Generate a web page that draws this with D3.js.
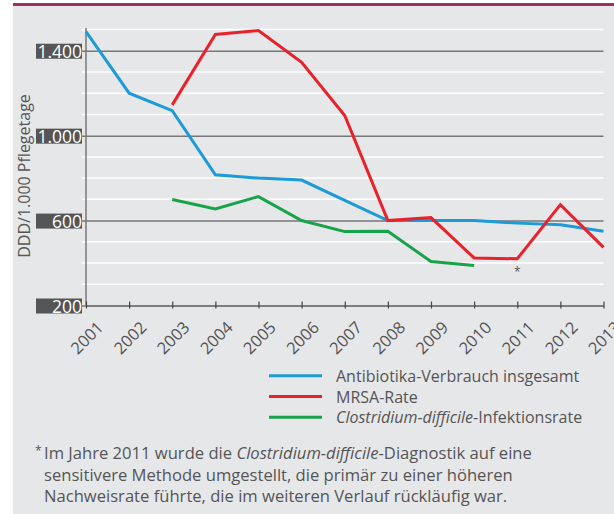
<!DOCTYPE html>
<html>
<head>
<meta charset="utf-8">
<script src="https://cdn.jsdelivr.net/npm/d3@7/dist/d3.min.js"></script>
<style>
  body { margin: 0; background: #fff; }
  text { font-family: "Open Sans", "DejaVu Sans", sans-serif; }
</style>
</head>
<body>
<div id="chart"></div>
<script>
// data
const years = [2001, 2002, 2003, 2004, 2005, 2006, 2007, 2008, 2009, 2010, 2011, 2012, 2013];
const antibiotika = [1490, 1200, 1118, 816, 800, 791, 695, 600, 600, 600, 588, 580, 550];
const mrsa = [null, null, 1145, 1477, 1495, 1345, 1095, 600, 614, 424, 420, 675, 474];
const clostridium = [null, null, 699, 655, 713, 600, 548, 550, 407, 388, null, null, null];
const yTicks = [200, 600, 1000, 1400];
const yMinor = [300, 400, 500, 700, 800, 900, 1100, 1200, 1300, 1500];

const series = [
    { name: 'Antibiotika-Verbrauch insgesamt', values: antibiotika, color: '#1b9bd7' },
    { name: 'MRSA-Rate', values: mrsa, color: '#e8212b' },
    { name: 'Clostridium-difficile-Infektionsrate', values: clostridium, color: '#17a34a' }
];

const W = 614, H = 514;
const textColor = '#555';

const de = d3.formatLocale({ decimal: ',', thousands: '.', grouping: [3], currency: ['', ' €'] });
const fmt = de.format(',d');

const svg = d3.select('#chart')
    .append('svg')
    .attr('width', W)
    .attr('height', H);

// grey panel + top rule
svg.append('rect')
    .attr('x', 13).attr('y', 5)
    .attr('width', W - 13).attr('height', H - 5)
    .attr('fill', '#e6e7e9');
svg.append('rect')
    .attr('x', 13).attr('y', 3)
    .attr('width', W - 13).attr('height', 3)
    .attr('fill', '#9c2f60');

// scales
const x = d3.scaleLinear().domain([2001, 2013]).range([86, 603.5]);
const y = d3.scaleLinear().domain([200, 1500]).range([305.5, 29.5]);

// minor (white) grid
svg.append('g')
    .selectAll('line')
    .data(yMinor)
    .enter()
    .append('line')
    .attr('x1', 82).attr('x2', 603.5)
    .attr('y1', d => y(d)).attr('y2', d => y(d))
    .attr('stroke', '#fff')
    .attr('stroke-width', 1.5);

// major grid with boxed labels
const yAxis = d3.axisLeft(y)
    .tickValues(yTicks)
    .tickSize(-(603.5 - 86))
    .tickFormat(fmt);

const yAxisG = svg.append('g')
    .attr('transform', 'translate(86,0)')
    .call(yAxis);
yAxisG.select('.domain').remove();
yAxisG.selectAll('.tick line')
    .attr('stroke', '#777')
    .attr('stroke-width', 1.5)
    .attr('x1', -4);
yAxisG.selectAll('.tick')
    .insert('rect', 'text')
    .attr('x', -50).attr('y', -7.5)
    .attr('width', 46).attr('height', 15)
    .attr('fill', '#555');
yAxisG.selectAll('.tick text')
    .attr('x', -4)
    .attr('dy', '0.38em')
    .attr('fill', '#fff')
    .style('font-size', '17.5px');

// vertical axis line
svg.append('line')
    .attr('x1', 86).attr('x2', 86)
    .attr('y1', 28).attr('y2', y(200))
    .attr('stroke', '#777')
    .attr('stroke-width', 1.5);

// x axis
const xAxis = d3.axisBottom(x)
    .tickValues(years)
    .tickSize(0)
    .tickFormat(d3.format('d'));

const xAxisG = svg.append('g')
    .attr('transform', 'translate(0,' + y(200) + ')')
    .call(xAxis);
xAxisG.select('.domain')
    .attr('stroke', '#777')
    .attr('stroke-width', 1.5);
xAxisG.selectAll('.tick line')
    .attr('stroke', '#444')
    .attr('stroke-width', 1.2)
    .attr('y1', -4).attr('y2', 3);
xAxisG.selectAll('.tick text')
    .attr('fill', textColor)
    .style('font-size', '16.5px')
    .attr('text-anchor', 'end')
    .attr('dy', 0)
    .attr('y', 0)
    .attr('transform', 'translate(18,23) rotate(-45)');

// y axis title
svg.append('text')
    .attr('transform', 'translate(30,176) rotate(-90)')
    .attr('text-anchor', 'middle')
    .attr('fill', textColor)
    .style('font-size', '16px')
    .text('DDD/1.000 Pflegetage');

// lines
const line = d3.line()
    .defined(d => d.v !== null)
    .x(d => x(d.year))
    .y(d => y(d.v));

svg.append('g')
    .selectAll('path')
    .data(series)
    .enter()
    .append('path')
    .attr('fill', 'none')
    .attr('stroke', d => d.color)
    .attr('stroke-width', 3)
    .attr('stroke-linejoin', 'miter')
    .attr('d', d => line(years.map((yr, i) => ({ year: yr, v: d.values[i] }))));

// footnote marker at 2011
svg.append('text')
    .attr('x', x(2011))
    .attr('y', 276)
    .attr('text-anchor', 'middle')
    .attr('fill', textColor)
    .style('font-size', '12px')
    .text('*');

// legend
const legend = svg.append('g');
series.forEach((s, i) => {
    const ly = 375.7 + i * 20.8;
    legend.append('line')
        .attr('x1', 269).attr('x2', 322)
        .attr('y1', ly).attr('y2', ly)
        .attr('stroke', s.color)
        .attr('stroke-width', 3);
    const t = legend.append('text')
        .attr('x', 336)
        .attr('y', ly + 6)
        .attr('fill', textColor)
        .style('font-size', '16px');
    if (i === 2) {
        t.append('tspan').style('font-style', 'italic').text('Clostridium-difficile');
        t.append('tspan').text('-Infektionsrate');
    } else {
        t.text(s.name);
    }
});

// footnote
const note = svg.append('g').attr('fill', textColor).style('font-size', '16.6px');
note.append('text')
    .attr('x', 35).attr('y', 455)
    .style('font-size', '12px')
    .text('*');
const l1 = note.append('text').attr('x', 44).attr('y', 459);
l1.append('tspan').text('Im Jahre 2011 wurde die ');
l1.append('tspan').style('font-style', 'italic').text('Clostridium-difficile');
l1.append('tspan').text('-Diagnostik auf eine');
note.append('text').attr('x', 44).attr('y', 480.5)
    .text('sensitivere Methode umgestellt, die primär zu einer höheren');
note.append('text').attr('x', 44).attr('y', 502)
    .text('Nachweisrate führte, die im weiteren Verlauf rückläufig war.');
</script>
</body>
</html>
